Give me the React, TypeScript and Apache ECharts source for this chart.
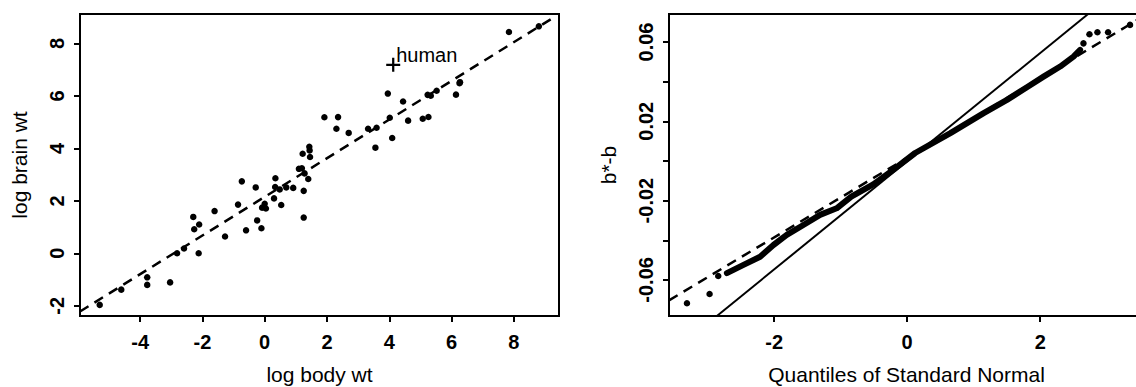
import React, { useEffect, useRef } from "react";
import * as echarts from "echarts";

// ---- Left panel: mammals, natural log of body weight (kg) and brain weight (g)
const logBodyWt = [
  1.219, -0.734, 0.3, 6.142, 3.593, 3.32, 2.697, 0.039, 1.433, -0.856,
  -2.293, -0.083, 0.0, -5.298, -2.813, 1.253, 0.693, 0.531, 7.843, -3.772,
  5.232, 6.256, -0.242, 2.303, 1.194, -1.609, 0.344, 6.271, 5.333, 4.443,
  -0.288, 8.803, 1.253, 1.917, 3.555, 1.399, -2.12, -3.772, -4.605, 0.336,
  5.521, 0.916, 4.016, 4.605, 3.954, 2.356, -0.598, 4.094, 1.281, 1.456,
  -1.273, -2.59, -2.104, -3.037, 5.257, 1.099, 5.075, -0.105, 0.482, -2.263,
  1.443,
];
const logBrainWt = [
  3.795, 2.741, 2.092, 6.047, 4.783, 4.745, 4.587, 1.705, 4.06, 1.856,
  1.386, 1.74, 1.887, -1.966, 0.0, 2.38, 2.51, 1.841, 8.434, -1.204,
  6.038, 6.485, 1.253, 4.745, 3.243, 1.609, 2.862, 6.522, 6.006, 5.784,
  2.51, 8.65, 1.361, 5.187, 4.025, 2.833, 0.0, -0.916, -1.386, 2.526,
  6.194, 2.493, 5.165, 5.056, 6.087, 5.19, 0.875, 4.394, 3.045, 3.669,
  0.642, 0.182, 1.099, -1.109, 5.193, 3.219, 5.13, 0.956, 2.434, 0.916,
  3.92,
];
const humanLabel = "human";
const humanPoint = [4.127, 7.185];
const fitLineX = [-5.93, 9.2];
const fitLineY = [-2.22, 8.93];
const leftXTicks = [-4, -2, 0, 2, 4, 6, 8];
const leftYTicks = [-2, 0, 2, 4, 6, 8];

// ---- Right panel: normal QQ plot of bootstrap b* - b
const qqBandX = [-2.71, -2.46, -2.21, -2.01, -1.81, -1.56, -1.31, -1.06, -0.84, -0.51, -0.21, 0.12, 0.65, 1.15, 1.5, 1.8, 2.05, 2.3, 2.5, 2.6];
const qqBandY = [-0.0566, -0.0524, -0.0483, -0.0424, -0.0373, -0.0323, -0.0272, -0.0239, -0.018, -0.0118, -0.0045, 0.004, 0.014, 0.0241, 0.0308, 0.0372, 0.0425, 0.0476, 0.0526, 0.056];
const qqTailX = [-3.31, -2.97, -2.84, 2.65, 2.74, 2.86, 3.02, 3.35];
const qqTailY = [-0.0718, -0.0671, -0.058, 0.0593, 0.0639, 0.0649, 0.0649, 0.0686];
const solidRefX = [-2.86, 2.72];
const solidRefY = [-0.0782, 0.0741];
const dashedRefX = [-3.58, 3.56];
const dashedRefY = [-0.0703, 0.0731];
const rightXTicks = [-2, 0, 2];
const rightYTicks = [-0.06, -0.04, -0.02, 0, 0.02, 0.04, 0.06];
const rightYLabels = [-0.06, -0.02, 0.02, 0.06];

const FONT = "'Liberation Sans', Arial, Helvetica, sans-serif";
const INK = "#000000";

const zip = (xs: number[], ys: number[]) => xs.map((x, i) => [x, ys[i]]);

function axis(
  gridIndex: number,
  min: number,
  max: number,
  ticks: number[],
  labels: number[],
  name: string,
  nameGap: number,
  isY: boolean,
  fmt: (v: number) => string,
  labelMargin: number
) {
  return {
    type: "value",
    gridIndex,
    min,
    max,
    name,
    nameLocation: "middle",
    nameGap,
    nameTextStyle: { fontFamily: FONT, fontSize: 21, color: INK },
    axisLine: { show: true, onZero: false, lineStyle: { color: INK, width: 2 } },
    axisTick: {
      show: true,
      length: 6,
      customValues: ticks,
      lineStyle: { color: INK, width: 2 },
    },
    axisLabel: {
      show: true,
      customValues: labels,
      formatter: fmt,
      rotate: isY ? 90 : 0,
      margin: labelMargin,
      fontFamily: FONT,
      fontSize: 20,
      fontWeight: "bold",
      color: INK,
    },
    splitLine: { show: false },
  };
}

const PLUS = "path://M4.2,0H5.8V4.2H10V5.8H5.8V10H4.2V5.8H0V4.2H4.2Z";

export default function App() {
  const ref = useRef<HTMLDivElement>(null);
  useEffect(() => {
    if (!ref.current) return;
    const chart = echarts.init(ref.current, null, { renderer: "svg" });
    const intFmt = (v: number) => String(Math.round(v));
    const decFmt = (v: number) => v.toFixed(2);
    const gridBase = {
      top: 14,
      height: 302,
      show: true,
      borderColor: INK,
      borderWidth: 2,
      backgroundColor: "transparent",
      containLabel: false,
      outerBoundsMode: "none",
    };
    chart.setOption({
      animation: false,
      backgroundColor: "#ffffff",
      grid: [
        { ...gridBase, left: 80, width: 479 },
        { ...gridBase, left: 669, width: 475 },
      ],
      xAxis: [
        axis(0, -5.93, 9.45, leftXTicks, leftXTicks, "log body wt", 48, false, intFmt, 16),
        axis(1, -3.58, 3.56, rightXTicks, rightXTicks, "Quantiles of Standard Normal", 48, false, intFmt, 16),
      ],
      yAxis: [
        axis(0, -2.39, 9.12, leftYTicks, leftYTicks, "log brain wt", 50, true, intFmt, 13),
        axis(1, -0.0782, 0.0741, rightYTicks, rightYLabels, "b*-b", 50, true, decFmt, 13),
      ],
      series: [
        {
          type: "line",
          xAxisIndex: 0,
          yAxisIndex: 0,
          data: zip(fitLineX, fitLineY),
          symbol: "none",
          lineStyle: { color: INK, width: 2.5, type: [10, 7], opacity: 1 },
          z: 2,
        },
        {
          type: "scatter",
          xAxisIndex: 0,
          yAxisIndex: 0,
          data: zip(logBodyWt, logBrainWt),
          symbol: "circle",
          symbolSize: 6.5,
          itemStyle: { color: INK, opacity: 1 },
          z: 3,
        },
        {
          type: "scatter",
          xAxisIndex: 0,
          yAxisIndex: 0,
          data: [humanPoint],
          symbol: PLUS,
          symbolSize: 14,
          itemStyle: { color: INK, opacity: 1 },
          label: {
            show: true,
            formatter: humanLabel,
            position: "right",
            distance: -4,
            offset: [0, -10],
            fontFamily: FONT,
            fontSize: 20,
            color: INK,
            opacity: 1,
          },
          z: 3,
        },
        {
          type: "line",
          xAxisIndex: 1,
          yAxisIndex: 1,
          data: zip(dashedRefX, dashedRefY),
          symbol: "none",
          lineStyle: { color: INK, width: 2.5, type: [10, 7], opacity: 1 },
          z: 2,
        },
        {
          type: "line",
          xAxisIndex: 1,
          yAxisIndex: 1,
          data: zip(solidRefX, solidRefY),
          symbol: "none",
          lineStyle: { color: INK, width: 2, opacity: 1 },
          z: 2,
        },
        {
          type: "line",
          xAxisIndex: 1,
          yAxisIndex: 1,
          data: zip(qqBandX, qqBandY),
          symbol: "none",
          lineStyle: { color: INK, width: 6, cap: "round", join: "round", opacity: 1 },
          z: 3,
        },
        {
          type: "scatter",
          xAxisIndex: 1,
          yAxisIndex: 1,
          data: zip(qqTailX, qqTailY),
          symbol: "circle",
          symbolSize: 6.5,
          itemStyle: { color: INK, opacity: 1 },
          z: 3,
        },
      ],
    });
    return () => chart.dispose();
  }, []);
  return (
    <div
      ref={ref}
      style={{ position: "fixed", left: 0, top: 0, width: 1136, height: 387, background: "#fff" }}
    />
  );
}
